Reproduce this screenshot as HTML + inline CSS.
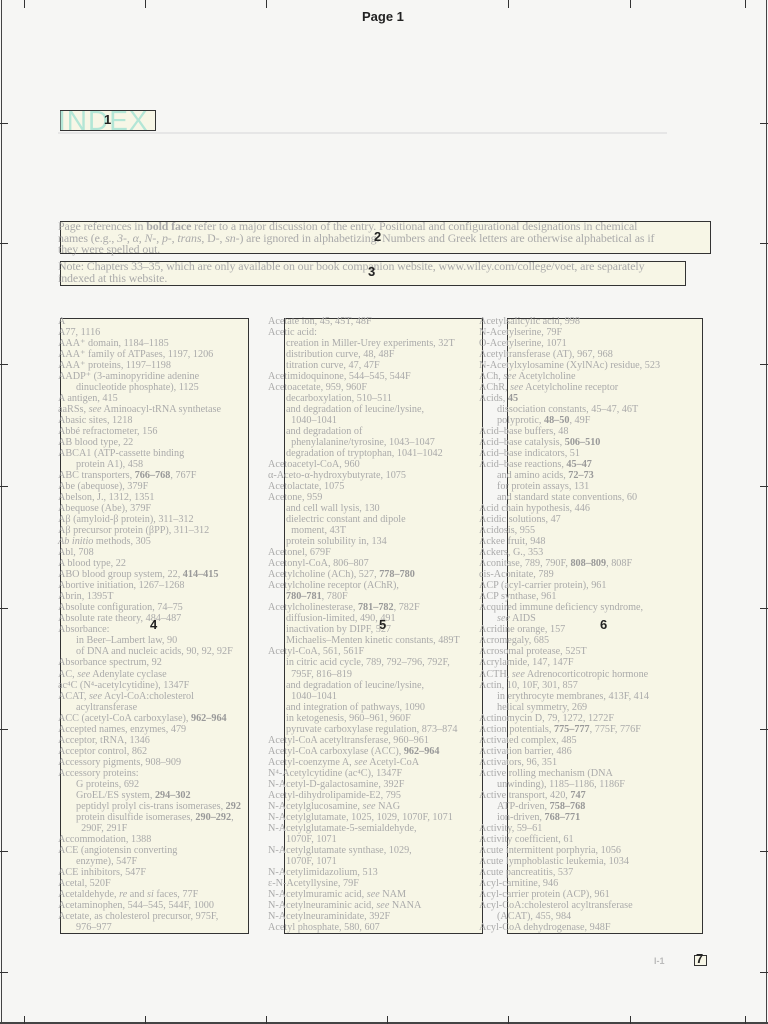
<!DOCTYPE html>
<html><head><meta charset="utf-8"><style>
body{margin:0;width:768px;height:1024px;background:#f6f6f4;position:relative;overflow:hidden;font-family:"Liberation Serif",serif}
.a{position:absolute}
.box{position:absolute;border:1px solid #333;background:#f7f6e6;box-sizing:border-box}
.num{position:absolute;font:bold 13px "Liberation Sans",sans-serif;color:#222}
.col{position:absolute;font-size:10.2px;line-height:11.02px;color:#aaa;white-space:nowrap}
.col div.i{padding-left:18px}
.col b{color:#999}
.t{position:absolute;font-size:11.9px;line-height:11.5px;color:#aaa;white-space:nowrap;letter-spacing:-0.1px}
.tick{position:absolute;background:#333}
</style></head><body>
<div class="a" style="left:1px;top:0;width:1px;height:1024px;background:#444"></div>
<div class="a" style="left:766px;top:0;width:1px;height:1024px;background:#444"></div>
<div class="a" style="left:0;top:1022px;width:768px;height:2px;background:#444"></div>
<div class="tick" style="left:0;top:123px;width:8px;height:1px"></div>
<div class="tick" style="left:0;top:243px;width:8px;height:1px"></div>
<div class="tick" style="left:0;top:364px;width:8px;height:1px"></div>
<div class="tick" style="left:0;top:486px;width:8px;height:1px"></div>
<div class="tick" style="left:0;top:608px;width:8px;height:1px"></div>
<div class="tick" style="left:0;top:729px;width:8px;height:1px"></div>
<div class="tick" style="left:0;top:851px;width:8px;height:1px"></div>
<div class="tick" style="left:0;top:972px;width:8px;height:1px"></div>
<div class="tick" style="left:760px;top:123px;width:8px;height:1px"></div>
<div class="tick" style="left:760px;top:243px;width:8px;height:1px"></div>
<div class="tick" style="left:760px;top:364px;width:8px;height:1px"></div>
<div class="tick" style="left:760px;top:486px;width:8px;height:1px"></div>
<div class="tick" style="left:760px;top:608px;width:8px;height:1px"></div>
<div class="tick" style="left:760px;top:729px;width:8px;height:1px"></div>
<div class="tick" style="left:760px;top:851px;width:8px;height:1px"></div>
<div class="tick" style="left:760px;top:972px;width:8px;height:1px"></div>
<div class="tick" style="left:24px;top:1016px;width:1px;height:8px"></div>
<div class="tick" style="left:145px;top:1016px;width:1px;height:8px"></div>
<div class="tick" style="left:266px;top:1016px;width:1px;height:8px"></div>
<div class="tick" style="left:387px;top:1016px;width:1px;height:8px"></div>
<div class="tick" style="left:508px;top:1016px;width:1px;height:8px"></div>
<div class="tick" style="left:630px;top:1016px;width:1px;height:8px"></div>
<div class="tick" style="left:745px;top:1016px;width:1px;height:8px"></div>
<div class="tick" style="left:24px;top:0;width:1px;height:8px"></div>
<div class="tick" style="left:145px;top:0;width:1px;height:8px"></div>
<div class="tick" style="left:266px;top:0;width:1px;height:8px"></div>
<div class="tick" style="left:508px;top:0;width:1px;height:8px"></div>
<div class="tick" style="left:630px;top:0;width:1px;height:8px"></div>
<div class="tick" style="left:745px;top:0;width:1px;height:8px"></div>

<div class="num" style="left:362px;top:9px;font-size:13px">Page 1</div>

<div class="box" style="left:60px;top:110px;width:96px;height:21px"></div>
<div class="a" style="left:58px;top:106px;font:28px 'Liberation Sans',sans-serif;color:#b3e6d6;letter-spacing:1px;line-height:30px">INDEX</div>
<div class="num" style="left:104px;top:112px">1</div>
<div class="a" style="left:58px;top:132px;width:609px;height:2px;background:#e6e6e6"></div>

<div class="box" style="left:60px;top:221px;width:651px;height:33px"></div>
<div class="t" style="left:58px;top:221px">Page references in <b>bold face</b> refer to a major discussion of the entry. Positional and configurational designations in chemical<br>names (e.g., <i>3-</i>, <i>α</i>, <i>N-</i>, <i>p-</i>, <i>trans</i>, D-, <i>sn-</i>) are ignored in alphabetizing. Numbers and Greek letters are otherwise alphabetical as if<br>they were spelled out.</div>
<div class="num" style="left:374px;top:229px">2</div>

<div class="box" style="left:60px;top:261px;width:626px;height:25px"></div>
<div class="t" style="left:58px;top:261px">Note: Chapters 33–35, which are only available on our book companion website, www.wiley.com/college/voet, are separately<br>indexed at this website.</div>
<div class="num" style="left:368px;top:264px">3</div>

<div class="box" style="left:60px;top:318px;width:189px;height:616px"></div>
<div class="box" style="left:284px;top:318px;width:199px;height:616px"></div>
<div class="box" style="left:507px;top:318px;width:196px;height:616px"></div>

<div class="col" style="left:58px;top:316px">
<div>A</div><div>A77, 1116</div><div>AAA⁺ domain, 1184–1185</div><div>AAA⁺ family of ATPases, 1197, 1206</div><div>AAA⁺ proteins, 1197–1198</div><div>AADP⁺ (3-aminopyridine adenine</div><div class="i">dinucleotide phosphate), 1125</div><div>A antigen, 415</div><div>aaRSs, <i>see</i> Aminoacyl-tRNA synthetase</div><div>Abasic sites, 1218</div><div>Abbé refractometer, 156</div><div>AB blood type, 22</div><div>ABCA1 (ATP-cassette binding</div><div class="i">protein A1), 458</div><div>ABC transporters, <b>766–768</b>, 767F</div><div>Abe (abequose), 379F</div><div>Abelson, J., 1312, 1351</div><div>Abequose (Abe), 379F</div><div>Aβ (amyloid-β protein), 311–312</div><div>Aβ precursor protein (βPP), 311–312</div><div><i>Ab initio</i> methods, 305</div><div>Abl, 708</div><div>A blood type, 22</div><div>ABO blood group system, 22, <b>414–415</b></div><div>Abortive initiation, 1267–1268</div><div>Abrin, 1395T</div><div>Absolute configuration, 74–75</div><div>Absolute rate theory, 484–487</div><div>Absorbance:</div><div class="i">in Beer–Lambert law, 90</div><div class="i">of DNA and nucleic acids, 90, 92, 92F</div><div>Absorbance spectrum, 92</div><div>AC, <i>see</i> Adenylate cyclase</div><div>ac⁴C (N⁴-acetylcytidine), 1347F</div><div>ACAT, <i>see</i> Acyl-CoA:cholesterol</div><div class="i">acyltransferase</div><div>ACC (acetyl-CoA carboxylase), <b>962–964</b></div><div>Accepted names, enzymes, 479</div><div>Acceptor, tRNA, 1346</div><div>Acceptor control, 862</div><div>Accessory pigments, 908–909</div><div>Accessory proteins:</div><div class="i">G proteins, 692</div><div class="i">GroEL/ES system, <b>294–302</b></div><div class="i">peptidyl prolyl cis-trans isomerases, <b>292</b></div><div class="i">protein disulfide isomerases, <b>290–292</b>,</div><div class="i">&nbsp;&nbsp;290F, 291F</div><div>Accommodation, 1388</div><div>ACE (angiotensin converting</div><div class="i">enzyme), 547F</div><div>ACE inhibitors, 547F</div><div>Acetal, 520F</div><div>Acetaldehyde, <i>re</i> and <i>si</i> faces, 77F</div><div>Acetaminophen, 544–545, 544F, 1000</div><div>Acetate, as cholesterol precursor, 975F,</div><div class="i">976–977</div>
</div>

<div class="col" style="left:268px;top:316px">
<div>Acetate ion, 45, 45T, 48F</div><div>Acetic acid:</div><div class="i">creation in Miller-Urey experiments, 32T</div><div class="i">distribution curve, 48, 48F</div><div class="i">titration curve, 47, 47F</div><div>Acetimidoquinone, 544–545, 544F</div><div>Acetoacetate, 959, 960F</div><div class="i">decarboxylation, 510–511</div><div class="i">and degradation of leucine/lysine,</div><div class="i">&nbsp;&nbsp;1040–1041</div><div class="i">and degradation of</div><div class="i">&nbsp;&nbsp;phenylalanine/tyrosine, 1043–1047</div><div class="i">degradation of tryptophan, 1041–1042</div><div>Acetoacetyl-CoA, 960</div><div>α-Aceto-α-hydroxybutyrate, 1075</div><div>Acetolactate, 1075</div><div>Acetone, 959</div><div class="i">and cell wall lysis, 130</div><div class="i">dielectric constant and dipole</div><div class="i">&nbsp;&nbsp;moment, 43T</div><div class="i">protein solubility in, 134</div><div>Acetonel, 679F</div><div>Acetonyl-CoA, 806–807</div><div>Acetylcholine (ACh), 527, <b>778–780</b></div><div>Acetylcholine receptor (AChR),</div><div class="i"><b>780–781</b>, 780F</div><div>Acetylcholinesterase, <b>781–782</b>, 782F</div><div class="i">diffusion-limited, 490, 491</div><div class="i">inactivation by DIPF, 527</div><div class="i">Michaelis–Menten kinetic constants, 489T</div><div>Acetyl-CoA, 561, 561F</div><div class="i">in citric acid cycle, 789, 792–796, 792F,</div><div class="i">&nbsp;&nbsp;795F, 816–819</div><div class="i">and degradation of leucine/lysine,</div><div class="i">&nbsp;&nbsp;1040–1041</div><div class="i">and integration of pathways, 1090</div><div class="i">in ketogenesis, 960–961, 960F</div><div class="i">pyruvate carboxylase regulation, 873–874</div><div>Acetyl-CoA acetyltransferase, 960–961</div><div>Acetyl-CoA carboxylase (ACC), <b>962–964</b></div><div>Acetyl-coenzyme A, <i>see</i> Acetyl-CoA</div><div>N⁴-Acetylcytidine (ac⁴C), 1347F</div><div>N-Acetyl-D-galactosamine, 392F</div><div>Acetyl-dihydrolipamide-E2, 795</div><div>N-Acetylglucosamine, <i>see</i> NAG</div><div>N-Acetylglutamate, 1025, 1029, 1070F, 1071</div><div>N-Acetylglutamate-5-semialdehyde,</div><div class="i">1070F, 1071</div><div>N-Acetylglutamate synthase, 1029,</div><div class="i">1070F, 1071</div><div>N-Acetylimidazolium, 513</div><div>ε-N-Acetyllysine, 79F</div><div>N-Acetylmuramic acid, <i>see</i> NAM</div><div>N-Acetylneuraminic acid, <i>see</i> NANA</div><div>N-Acetylneuraminidate, 392F</div><div>Acetyl phosphate, 580, 607</div>
</div>

<div class="col" style="left:479px;top:316px">
<div>Acetylsalicylic acid, 998</div><div>N-Acetylserine, 79F</div><div>O-Acetylserine, 1071</div><div>Acetyltransferase (AT), 967, 968</div><div>N-Acetylxylosamine (XylNAc) residue, 523</div><div>ACh, <i>see</i> Acetylcholine</div><div>AChR, <i>see</i> Acetylcholine receptor</div><div>Acids, <b>45</b></div><div class="i">dissociation constants, 45–47, 46T</div><div class="i">polyprotic, <b>48–50</b>, 49F</div><div>Acid–base buffers, 48</div><div>Acid–base catalysis, <b>506–510</b></div><div>Acid–base indicators, 51</div><div>Acid–base reactions, <b>45–47</b></div><div class="i">and amino acids, <b>72–73</b></div><div class="i">for protein assays, 131</div><div class="i">and standard state conventions, 60</div><div>Acid chain hypothesis, 446</div><div>Acidic solutions, 47</div><div>Acidosis, 955</div><div>Ackee fruit, 948</div><div>Ackers, G., 353</div><div>Aconitase, 789, 790F, <b>808–809</b>, 808F</div><div>cis-Aconitate, 789</div><div>ACP (acyl-carrier protein), 961</div><div>ACP synthase, 961</div><div>Acquired immune deficiency syndrome,</div><div class="i"><i>see</i> AIDS</div><div>Acridine orange, 157</div><div>Acromegaly, 685</div><div>Acrosomal protease, 525T</div><div>Acrylamide, 147, 147F</div><div>ACTH, <i>see</i> Adrenocorticotropic hormone</div><div>Actin, 10, 10F, 301, 857</div><div class="i">in erythrocyte membranes, 413F, 414</div><div class="i">helical symmetry, 269</div><div>Actinomycin D, 79, 1272, 1272F</div><div>Action potentials, <b>775–777</b>, 775F, 776F</div><div>Activated complex, 485</div><div>Activation barrier, 486</div><div>Activators, 96, 351</div><div>Active rolling mechanism (DNA</div><div class="i">unwinding), 1185–1186, 1186F</div><div>Active transport, 420, <b>747</b></div><div class="i">ATP-driven, <b>758–768</b></div><div class="i">ion-driven, <b>768–771</b></div><div>Activity, 59–61</div><div>Activity coefficient, 61</div><div>Acute intermittent porphyria, 1056</div><div>Acute lymphoblastic leukemia, 1034</div><div>Acute pancreatitis, 537</div><div>Acyl-carnitine, 946</div><div>Acyl-carrier protein (ACP), 961</div><div>Acyl-CoA:cholesterol acyltransferase</div><div class="i">(ACAT), 455, 984</div><div>Acyl-CoA dehydrogenase, 948F</div>
</div>

<div class="num" style="left:150px;top:617px">4</div>
<div class="num" style="left:379px;top:617px">5</div>
<div class="num" style="left:600px;top:617px">6</div>

<div class="a" style="left:654px;top:956px;font:bold 9px 'Liberation Sans',sans-serif;color:#bbb">I-1</div>
<div class="box" style="left:694px;top:955px;width:13px;height:11px"></div>
<div class="num" style="left:696px;top:951px">7</div>
</body></html>
